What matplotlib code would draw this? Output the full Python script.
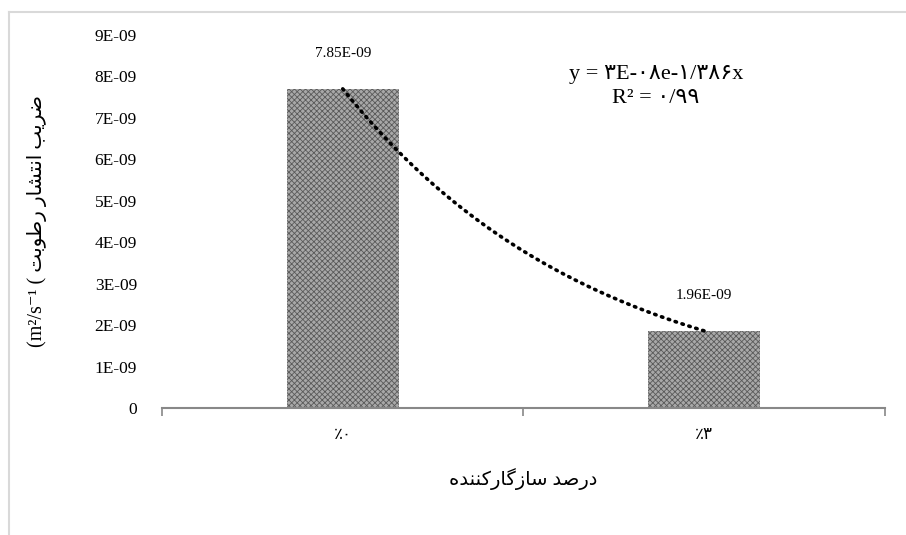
import numpy as np
import matplotlib
matplotlib.use("Agg")
import matplotlib.pyplot as plt
from matplotlib.lines import Line2D

# data
categories = ["\u066a\u06f0", "\u066a\u06f3"]          # ٪۰ , ٪۳ (visual order)
bar_values = [7.7e-09, 1.86e-09]
bar_labels = ["7.85E-09", "1.96E-09"]
y_ticks = [0, 1e-09, 2e-09, 3e-09, 4e-09, 5e-09, 6e-09, 7e-09, 8e-09, 9e-09]
y_tick_labels = ["0", "1E-09", "2E-09", "3E-09", "4E-09", "5E-09",
                 "6E-09", "7E-09", "8E-09", "9E-09"]

# persian text, pre-shaped glyphs in visual (left to right) order
zarib = "\uFE90\uFBFE\uFEAE\uFEBF"                       # ضریب
enteshar = "\uFEAD\uFE8E\uFEB8\uFE98\uFEE7\uFE8D"         # انتشار
rotubat = "\uFE96\uFE91\uFEEE\uFEC3\uFEAD"                # rطوبت
dars = "\uFEAA\uFEBB\uFEAD\uFEA9"                         # درصد
sazgar = "\uFEE9\uFEAA\uFEE8\uFEE8\uFB90\uFEAD\uFE8E\uFB94\uFEAF\uFE8E\uFEB3"  # سازگارکننده

y_label = "(m\u00b2/s\u207b\u00b9 ( " + rotubat + " " + enteshar + " " + zarib
x_label = sazgar + " " + dars
eq_line1 = "y = \u06f3E-\u06f0\u06f8e-\u06f1/\u06f3\u06f8\u06f6x"
eq_line2 = "R\u00b2 = \u06f0/\u06f9\u06f9"

fonts = ["Liberation Serif", "DejaVu Sans"]
plt.rcParams["font.family"] = fonts
plt.rcParams["hatch.linewidth"] = 0.6


def plot_chart():
    fig = plt.figure(figsize=(9.06, 5.35), dpi=100)
    ax = fig.add_axes([0.1788, 0.2374, 0.798, 0.6972])

    pos = np.arange(len(categories))
    ax.bar(pos, bar_values, width=0.31, color="#a8a8a8", edgecolor="#5a5a5a",
           hatch="xxxxxx", linewidth=0)

    # exponential trend line fitted on x = 1, 2
    xs = pos + 1
    k, lna = np.polyfit(xs, np.log(bar_values), 1)
    xf = np.linspace(xs[0], xs[-1], 200)
    ax.plot(xf - 1, np.exp(lna) * np.exp(k * xf), color="black", lw=2.6,
            linestyle=(0, (0.4, 1.6)), dash_capstyle="round")

    for p, v, lab in zip(pos, bar_values, bar_labels):
        ax.annotate(lab, (p, v), xytext=(0, 21), textcoords="offset points",
                    ha="center", va="bottom", fontsize=11)

    ax.text(0.683, 0.893, eq_line1, transform=ax.transAxes, ha="center",
            va="center", fontsize=16)
    ax.text(0.683, 0.831, eq_line2, transform=ax.transAxes, ha="center",
            va="center", fontsize=16)

    ax.set_xlim(-0.5, 1.5)
    ax.set_ylim(0, 9e-09)
    ax.set_yticks(y_ticks)
    ax.set_yticklabels(y_tick_labels, fontsize=12.5)
    ax.tick_params(axis="y", length=0, pad=18)
    ax.set_xticks(pos)
    ax.set_xticklabels(categories, fontsize=12)
    ax.tick_params(axis="x", which="major", length=0, pad=14)
    ax.set_xticks([-0.5, 0.5, 1.5], minor=True)
    ax.tick_params(axis="x", which="minor", length=6, width=1.2,
                   color="#888888")

    for s in ["top", "right", "left"]:
        ax.spines[s].set_visible(False)
    ax.spines["bottom"].set_color("#888888")
    ax.spines["bottom"].set_linewidth(1.5)

    ax.set_xlabel(x_label, fontsize=14, labelpad=18)
    ax.set_ylabel(y_label, fontsize=14.5, labelpad=34)

    # light frame of the chart area
    fig.add_artist(Line2D([0.0099, 0.0099], [0, 0.978], color="#d9d9d9",
                          lw=1.5, transform=fig.transFigure))
    fig.add_artist(Line2D([0.0099, 1], [0.978, 0.978], color="#d9d9d9",
                          lw=1.5, transform=fig.transFigure))

    fig.savefig("out.png", dpi=100)


def main():
    plot_chart()


if __name__ == "__main__":
    main()
